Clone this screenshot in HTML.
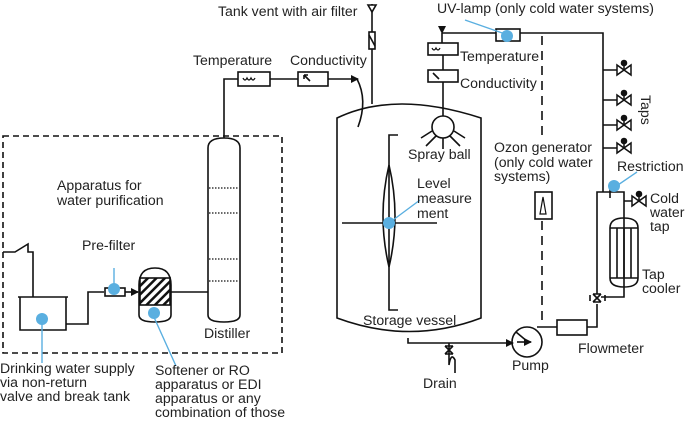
<!DOCTYPE html>
<html><head><meta charset="utf-8"><style>
html,body{margin:0;padding:0;background:#fff;width:685px;height:423px;overflow:hidden}
text{font-family:"Liberation Sans",Arial,sans-serif;font-size:14.1px;fill:#222}
</style></head><body>
<svg width="685" height="423" viewBox="0 0 685 423" xmlns="http://www.w3.org/2000/svg">
<defs><marker id="a" markerWidth="8" markerHeight="8" refX="7" refY="4" orient="auto" markerUnits="userSpaceOnUse"><path d="M0,0 L8,4 L0,8z" fill="#111"/></marker>
<pattern id="h" width="6" height="6" patternUnits="userSpaceOnUse" patternTransform="rotate(45)"><rect width="6" height="6" fill="#fff"/><rect width="2.5" height="6" fill="#111"/></pattern></defs>
<g stroke="#111" stroke-width="1.6" fill="none">
<rect x="3" y="136" width="279" height="217" stroke-dasharray="6,4"/>
<path d="M3,252 H15 L28,244 L28,252 H33 V297"/>
<path d="M20,297 V330 H66 V297 M18,297 H68"/>
<path d="M66,324 H88 V292 H104"/>
<rect x="105" y="288" width="20" height="8"/>
<path d="M125,292 H138" marker-end="url(#a)"/>
<path d="M139,285 Q139,268 155,268 Q171,268 171,285 V315 Q171,322 155,322 Q139,322 139,315 Z"/>
<rect x="140" y="278" width="30" height="27" fill="url(#h)"/>
<path d="M171,292 H208"/>
<path d="M208,148 Q208,138 224,138 Q240,138 240,148 V315 Q240,322 224,322 Q208,322 208,315 Z"/>
<g stroke-dasharray="1.5,1.5" stroke-width="1.2"><path d="M209,188H239M209,213H239M209,259H239M209,281H239"/></g>
<path d="M224,138 V79 H238"/>
<rect x="238" y="72" width="32" height="14"/>
<path d="M243,78 q2,4 4,0 q2,4 4,0 q2,4 4,0" stroke-width="1.3"/>
<path d="M270,79 H298"/>
<rect x="298" y="72" width="30" height="14"/>
<path d="M304,75 L310,81 M304,75 L304,79 M304,75 L308,75"/>
<path d="M328,79 H358" marker-end="url(#a)"/>
<path d="M357,79 Q368,100 358,127"/>
<path d="M372,4 V104"/>
<path d="M368,5 H376 L372,12 Z" fill="#fff"/>
<rect x="369" y="32" width="6" height="17" fill="#fff"/>
<path d="M369,35 L375,46"/>
<path d="M337,118 Q395,90 481,118 V318 Q410,345 337,318 Z"/>
<path d="M398,135 H389 V310 H398"/>
<path d="M389,165 Q377,216 389,267 Q401,216 389,165" />
<path d="M342,223 H437"/>
<path d="M408,338 V343 H513" marker-end="url(#a)"/>
<path d="M449,343 V365 Q451,352 455,360 V373"/>
<path d="M445,346 L453,354 M453,346 L445,354 M445,346 H453 M445,354 H453"/>
<circle cx="527" cy="342" r="15"/>
<path d="M516,332 L528,342" /><path d="M517,342 H531" marker-end="url(#a)"/>
<path d="M537,327 H557"/>
<rect x="557" y="320" width="30" height="15"/>
<path d="M587,327 H597 V304"/>
<path d="M593,294 L601,302 M601,294 L593,302 M593,294 H601 M593,302 H601 M590,295 V301 M605,295 V301"/>
<path d="M597,294 V192 H624 V297 H601"/>
<path d="M603,192 V33 H442" />
<path d="M442,33 V43" marker-start="url(#a)"/>
<rect x="428" y="43" width="30" height="12"/>
<path d="M432,48 q2,4 4,0 q2,4 4,0" stroke-width="1.2"/>
<path d="M443,55 V70"/>
<rect x="428" y="70" width="30" height="12"/>
<path d="M433,73 L439,79"/>
<path d="M443,82 V116"/>
<circle cx="443" cy="127" r="11"/>
<path d="M432,131 L421,138 M436,136 L426,146 M443,138 V149 M450,136 L460,146 M454,131 L465,138"/>
<rect x="496" y="29" width="24" height="12" fill="#fff"/>
<path d="M542,36 V135" stroke-dasharray="9,6"/>
<rect x="535" y="192" width="17" height="27"/>
<path d="M540,214 L543,197 L546,214 Z" stroke-width="1.2"/>
<path d="M542,221 V325" stroke-dasharray="9,6"/>
<path d="M603,70H617 M603,100H617 M603,125H617 M603,148H617 M624,201H632"/>
<g stroke-width="1.5">
<path d="M617,65 L631,75 V65 L617,75 Z M624,70 V63"/>
<path d="M617,95 L631,105 V95 L617,105 Z M624,100 V93"/>
<path d="M617,120 L631,130 V120 L617,130 Z M624,125 V118"/>
<path d="M617,143 L631,153 V143 L617,153 Z M624,148 V141"/>
<path d="M632,196 L646,206 V196 L632,206 Z M639,201 V194"/>
</g>
<g fill="#111"><circle cx="624" cy="63" r="2.5"/><circle cx="624" cy="93" r="2.5"/><circle cx="624" cy="118" r="2.5"/><circle cx="624" cy="141" r="2.5"/><circle cx="639" cy="194" r="2.5"/></g>
<path d="M610,188 V198"/>
<path d="M610,228 Q610,218 624,218 Q638,218 638,228 V278 Q638,287 624,287 Q610,287 610,278 Z"/>
<path d="M610,228 H638 M610,278 H638 M617,228 V278 M624,228 V278 M631,228 V278"/>
</g>
<g stroke="#5aafe0" stroke-width="1.4">
<path d="M42,320 V363 M114,289 V268 M153,315 L176,366 M389,223 L420,200 M508,35 L465,20 M615,187 L637,172"/>
</g>
<g fill="#5aafe0">
<circle cx="42" cy="319" r="6"/><circle cx="114" cy="289" r="6"/><circle cx="154" cy="313" r="6"/>
<circle cx="389" cy="223" r="6"/><circle cx="507" cy="36" r="6"/><circle cx="614" cy="186" r="6"/>
</g>
<text x="218" y="16">Tank vent with air filter</text>
<text x="437" y="13">UV-lamp (only cold water systems)</text>
<text x="193" y="65">Temperature</text>
<text x="290" y="65">Conductivity</text>
<text x="460" y="61">Temperature</text>
<text x="460" y="88">Conductivity</text>
<text x="408" y="159">Spray ball</text>
<text x="494" y="152">Ozon generator</text>
<text x="494" y="167">(only cold water</text>
<text x="494" y="181">systems)</text>
<text x="417" y="188">Level</text>
<text x="417" y="203">measure</text>
<text x="417" y="218">ment</text>
<text x="617" y="171">Restriction</text>
<text x="650" y="203">Cold</text>
<text x="650" y="217">water</text>
<text x="650" y="231">tap</text>
<text x="642" y="279">Tap</text>
<text x="642" y="293">cooler</text>
<text transform="translate(641,95) rotate(90)">Taps</text>
<text x="363" y="325">Storage vessel</text>
<text x="578" y="353">Flowmeter</text>
<text x="512" y="370">Pump</text>
<text x="423" y="388">Drain</text>
<text x="57" y="190">Apparatus for</text>
<text x="57" y="205">water purification</text>
<text x="82" y="250">Pre-filter</text>
<text x="204" y="338">Distiller</text>
<text x="0" y="373">Drinking water supply</text>
<text x="0" y="387">via non-return</text>
<text x="0" y="401">valve and break tank</text>
<text x="155" y="375">Softener or RO</text>
<text x="155" y="389">apparatus or EDI</text>
<text x="155" y="403">apparatus or any</text>
<text x="155" y="417">combination of those</text>
</svg>
</body></html>
